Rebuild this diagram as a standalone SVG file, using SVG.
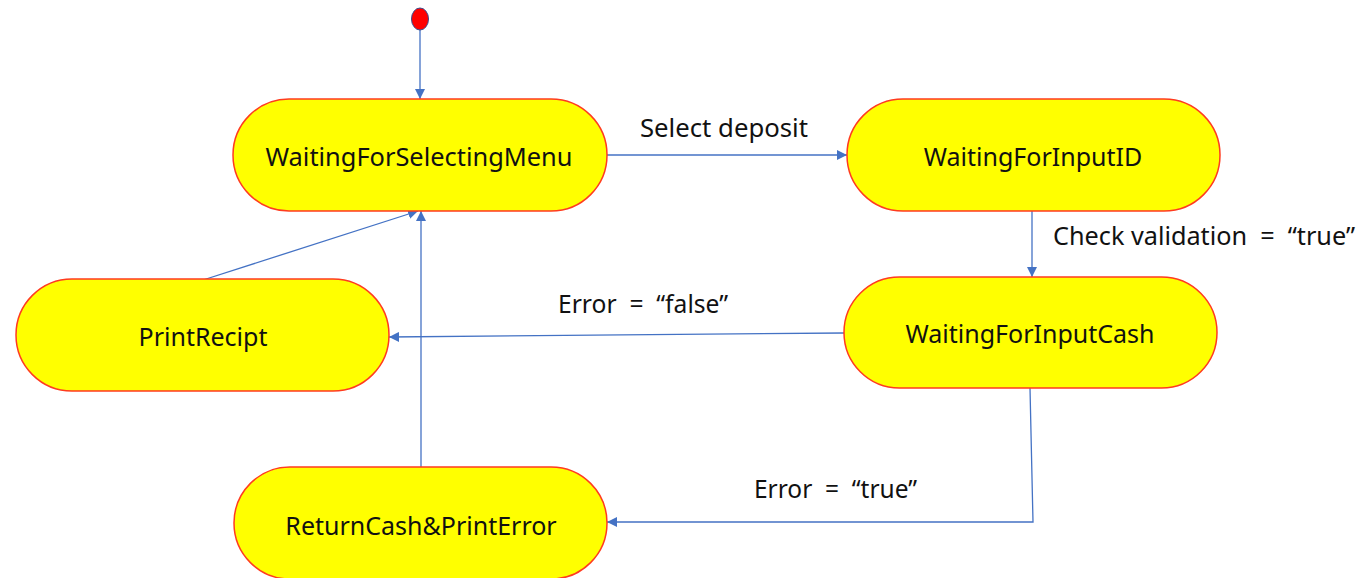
<svg xmlns="http://www.w3.org/2000/svg" width="1362" height="578" viewBox="0 0 1362 578">
<defs>
<style>
.node{fill:#FFFF00;stroke:#FF3B1F;stroke-width:1.5}
.lbl{font-family:"Noto Sans","Open Sans",sans-serif;font-size:25px;fill:#111;text-anchor:middle}
.elbl{font-family:"Noto Sans","Open Sans",sans-serif;font-size:25px;fill:#111;white-space:pre}
.conn{fill:none;stroke:#4472C4;stroke-width:1.3}
</style>
<marker id="arr" viewBox="0 0 10 10" refX="10" refY="5" markerWidth="10" markerHeight="10" markerUnits="userSpaceOnUse" orient="auto">
<path d="M0,0 L10,5 L0,10 z" fill="#4472C4"/>
</marker>
</defs>
<rect width="1362" height="578" fill="#FFFFFF"/>
<g id="connectors">
<line class="conn" x1="420" y1="30" x2="420" y2="99" marker-end="url(#arr)"/>
<line class="conn" x1="607" y1="155" x2="847" y2="155" marker-end="url(#arr)"/>
<line class="conn" x1="1032" y1="211" x2="1032" y2="277" marker-end="url(#arr)"/>
<line class="conn" x1="844" y1="333" x2="389" y2="337" marker-end="url(#arr)"/>
<line class="conn" x1="203" y1="280" x2="418" y2="211" marker-end="url(#arr)"/>
<line class="conn" x1="421" y1="467" x2="421" y2="211" marker-end="url(#arr)"/>
<polyline class="conn" points="1030,388 1033,522 607,522" marker-end="url(#arr)"/>
<text class="elbl" x="640" y="137" xml:space="preserve" textLength="168" lengthAdjust="spacingAndGlyphs">Select deposit</text>
<text class="elbl" x="1053" y="245" xml:space="preserve" textLength="302" lengthAdjust="spacingAndGlyphs">Check validation  =  “true”</text>
<text class="elbl" x="558" y="313" xml:space="preserve" textLength="170" lengthAdjust="spacingAndGlyphs">Error  =  “false”</text>
<text class="elbl" x="754" y="498" xml:space="preserve" textLength="163" lengthAdjust="spacingAndGlyphs">Error  =  “true”</text>
</g>
<g id="start">
<ellipse cx="420" cy="19" rx="8.5" ry="11" fill="#FF0000" stroke="#3A4A8C" stroke-width="1"/>
</g>
<g id="n-menu">
<rect class="node" x="233" y="99" width="374" height="112" rx="56"/>
<text class="lbl" x="419" y="166" textLength="307" lengthAdjust="spacingAndGlyphs">WaitingForSelectingMenu</text>
</g>
<g id="n-inputid">
<rect class="node" x="847" y="99" width="373" height="112" rx="56"/>
<text class="lbl" x="1033" y="166">WaitingForInputID</text>
</g>
<g id="n-inputcash">
<rect class="node" x="844" y="277" width="373" height="111" rx="55.5"/>
<text class="lbl" x="1030" y="343">WaitingForInputCash</text>
</g>
<g id="n-print">
<rect class="node" x="16" y="279" width="373" height="112" rx="56"/>
<text class="lbl" x="203" y="346">PrintRecipt</text>
</g>
<g id="n-return">
<rect class="node" x="234" y="467" width="373" height="112" rx="56"/>
<text class="lbl" x="421" y="535">ReturnCash&amp;PrintError</text>
</g>
</svg>
